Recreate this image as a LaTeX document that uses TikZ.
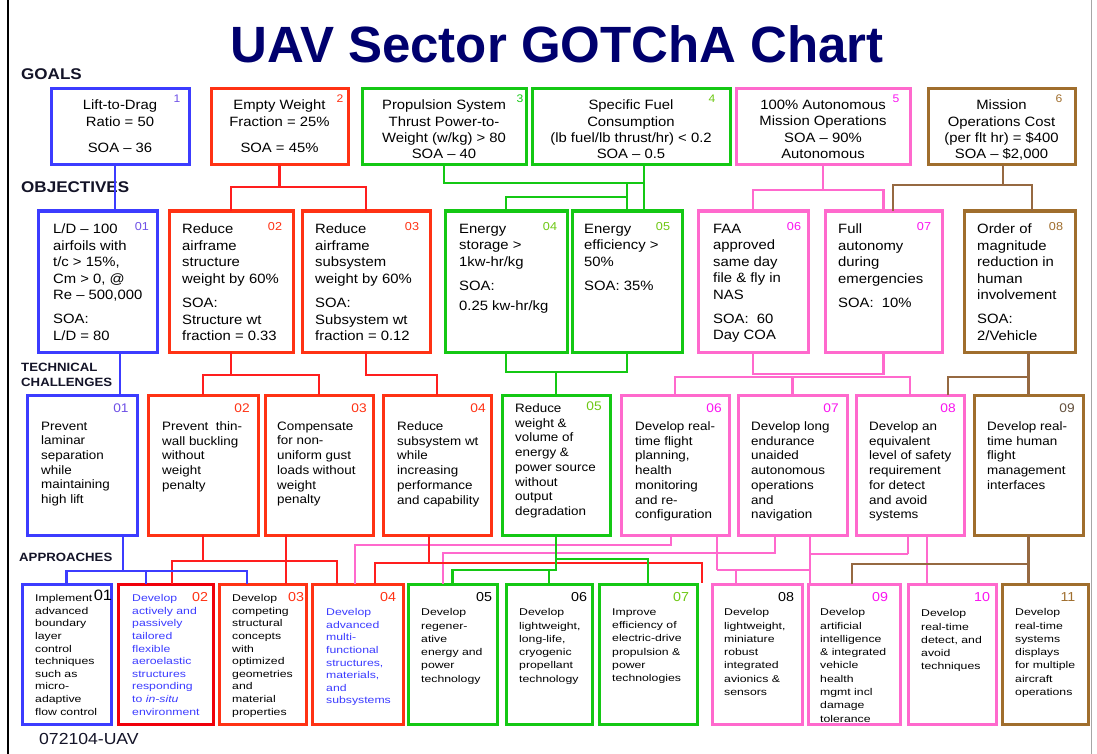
\documentclass[tikz,border=0pt]{standalone}
\usepackage{fontspec}
\setmainfont{Liberation Sans}
\newfontfamily\gfont{Liberation Sans}[FakeStretch=1.1]
\newfontfamily\afont{Liberation Sans}[FakeStretch=1.25]
\usetikzlibrary{fit}
\definecolor{cblue}{RGB}{60,60,255}
\definecolor{cred}{RGB}{255,50,20}
\definecolor{cpred}{RGB}{240,0,10}
\definecolor{cgrn}{RGB}{20,200,20}
\definecolor{cpnk}{RGB}{255,105,205}
\definecolor{cbrn}{RGB}{160,110,45}
\definecolor{lred}{RGB}{255,30,30}
\definecolor{lbrn}{RGB}{150,105,65}
\definecolor{navy}{RGB}{0,0,110}
\definecolor{npur}{RGB}{110,80,230}
\definecolor{nmag}{RGB}{250,20,240}
\definecolor{nlgr}{RGB}{110,200,20}
\definecolor{ngry}{RGB}{100,80,60}
\definecolor{secc}{RGB}{20,20,40}
\newcommand\mkbox[6]{\node[bx,draw=#2,fit={(#3,#4) (#5,#6)}] (#1) {};}
\begin{document}
\begin{tikzpicture}[x=1pt,y=-1pt,
 bx/.style={inner sep=0pt,outer sep=0pt,line width=3pt},
 ln/.style={line width=2.4pt},
 gtxt/.style={font=\gfont\fontsize{13.5}{16.3}\selectfont,align=center,anchor=north,inner sep=0pt},
 otxt/.style={font=\gfont\fontsize{13.5}{16.5}\selectfont,align=left,anchor=north west,inner sep=0pt},
 ttxt/.style={font=\gfont\fontsize{12.2}{14.7}\selectfont,align=left,anchor=north west,inner sep=0pt},
 atxt/.style={font=\afont\fontsize{9.8}{12.6}\selectfont,align=left,anchor=north west,inner sep=0pt},
 atxtb/.style={atxt,font=\afont\fontsize{9.8}{13.3}\selectfont},
 gnum/.style={font=\gfont\fontsize{11}{11}\selectfont,inner sep=0pt},
 onum/.style={font=\gfont\fontsize{11.5}{11.5}\selectfont,inner sep=0pt},
 tnum/.style={font=\gfont\fontsize{12.5}{12.5}\selectfont,inner sep=0pt},
 anum/.style={font=\gfont\fontsize{13}{13}\selectfont,inner sep=0pt},
 sec/.style={font=\gfont\bfseries\fontsize{15.5}{15.5}\selectfont,inner sep=0pt,anchor=base west,text=secc},
 sectwo/.style={sec,font=\gfont\bfseries\fontsize{12}{12}\selectfont},
]
\useasboundingbox (0,0) rectangle (1097,754);
\fill[white] (0,0) rectangle (1097,754);
\draw[line width=1.5pt] (8,0) -- (8,754);
\draw[line width=1pt,gray!70] (1091,0) -- (1091,754);

% title and section labels
\node[font=\bfseries\fontsize{51}{51}\selectfont,text=navy,anchor=base,inner sep=0pt] (title) at (557,63) {UAV Sector GOTChA Chart};
\node[sec] (lgoals) at (21,80) {GOALS};
\node[sec] (lobj) at (21,193) {OBJECTIVES};
\node[sectwo] (ltech) at (21,371) {TECHNICAL};
\node[sectwo] (lchal) at (21,386) {CHALLENGES};
\node[sectwo] (lappr) at (19,561) {APPROACHES};
\node[font=\gfont\fontsize{16}{16}\selectfont,anchor=base west,inner sep=0pt,text=secc] (docid) at (39,744) {072104-UAV};

% goals
\mkbox{g1}{cblue}{51}{89}{189}{165}
\mkbox{g2}{cred}{211}{89}{348}{165}
\mkbox{g3}{cgrn}{362}{89}{526}{165}
\mkbox{g4}{cgrn}{532}{89}{730}{165}
\mkbox{g5}{cpnk}{736}{89}{910}{165}
\mkbox{g6}{cbrn}{928}{89}{1075}{165}
\node[gtxt] (g1t) at ([yshift=-11pt]g1.north) {Lift-to-Drag\\Ratio = 50\\[10pt]SOA – 36};
\node[gtxt] (g2t) at ([yshift=-11pt]g2.north) {Empty Weight\\Fraction = 25\%\\[10pt]SOA = 45\%};
\node[gtxt] (g3t) at ([yshift=-11pt]g3.north) {Propulsion System\\Thrust Power-to-\\Weight (w/kg) > 80\\SOA – 40};
\node[gtxt] (g4t) at ([yshift=-11pt]g4.north) {Specific Fuel\\Consumption\\(lb fuel/lb thrust/hr) < 0.2\\SOA – 0.5};
\node[gtxt] (g5t) at ([yshift=-11pt]g5.north) {100\% Autonomous\\Mission Operations\\SOA – 90\%\\Autonomous};
\node[gtxt] (g6t) at ([yshift=-11pt]g6.north) {Mission\\Operations Cost\\(per flt hr) = \$400\\SOA – \$2,000};
\node[gnum,text=npur] (g1n) at (177,99) {1};
\node[gnum,text=cred] (g2n) at (340,99) {2};
\node[gnum,text=cgrn] (g3n) at (520,99) {3};
\node[gnum,text=nlgr] (g4n) at (712,99) {4};
\node[gnum,text=nmag] (g5n) at (896,99) {5};
\node[gnum,text=cbrn] (g6n) at (1059,99) {6};

% objectives
\mkbox{o1}{cblue}{38}{211}{157}{352}
\mkbox{o2}{cred}{169}{211}{293}{352}
\mkbox{o3}{cred}{302}{211}{430}{352}
\mkbox{o4}{cgrn}{445}{211}{567}{352}
\mkbox{o5}{cgrn}{572}{211}{682}{352}
\mkbox{o6}{cpnk}{698}{211}{808}{352}
\mkbox{o7}{cpnk}{825}{211}{942}{352}
\mkbox{o8}{cbrn}{964}{211}{1075}{352}
\node[otxt] (o1t) at (53,224) {L/D – 100\\airfoils with\\t/c > 15\%,\\Cm > 0, @\\Re – 500,000\\[7.5pt]SOA:\\L/D = 80};
\node[otxt] (o2t) at (182,224) {Reduce\\airframe\\structure\\weight by 60\%\\[8pt]SOA:\\Structure wt\\fraction = 0.33};
\node[otxt] (o3t) at (315,224) {Reduce\\airframe\\subsystem\\weight by 60\%\\[8pt]SOA:\\Subsystem wt\\fraction = 0.12};
\node[otxt] (o4t) at (459,224) {Energy\\storage >\\1kw-hr/kg\\[8pt]SOA:\\[3pt]0.25 kw-hr/kg};
\node[otxt] (o5t) at (584,224) {Energy\\efficiency >\\50\%\\[8pt]SOA: 35\%};
\node[otxt] (o6t) at (713,224) {FAA\\approved\\same day\\file \& fly in\\NAS\\[7.5pt]SOA:~~60\\Day COA};
\node[otxt] (o7t) at (838,224) {Full\\autonomy\\during\\emergencies\\[8pt]SOA:~~10\%};
\node[otxt] (o8t) at (977,224) {Order of\\magnitude\\reduction in\\human\\involvement\\[7.5pt]SOA:\\2/Vehicle};
\node[onum,text=npur] (o1n) at (142,227) {01};
\node[onum,text=cred] (o2n) at (275,227) {02};
\node[onum,text=cred] (o3n) at (412,227) {03};
\node[onum,text=nlgr] (o4n) at (550,227) {04};
\node[onum,text=nlgr] (o5n) at (663,227) {05};
\node[onum,text=nmag] (o6n) at (794,227) {06};
\node[onum,text=nmag] (o7n) at (924,227) {07};
\node[onum,text=cbrn] (o8n) at (1056,227) {08};

% technical challenges
\mkbox{t1}{cblue}{27}{395}{137}{535}
\mkbox{t2}{cred}{148}{395}{258}{535}
\mkbox{t3}{cred}{265}{395}{373}{535}
\mkbox{t4}{cred}{383}{395}{491}{535}
\mkbox{t5}{cgrn}{502}{395}{610}{535}
\mkbox{t6}{cpnk}{621}{395}{729}{535}
\mkbox{t7}{cpnk}{738}{395}{847}{535}
\mkbox{t8}{cpnk}{856}{395}{964}{535}
\mkbox{t9}{cbrn}{974}{395}{1083}{535}
\node[ttxt] (t1t) at (41,421.5) {Prevent\\laminar\\separation\\while\\maintaining\\high lift};
\node[ttxt] (t2t) at (162,421.5) {Prevent~~thin-\\wall buckling\\without\\weight\\penalty};
\node[ttxt] (t3t) at (277,421.5) {Compensate\\for non-\\uniform gust\\loads without\\weight\\penalty};
\node[ttxt] (t4t) at (397,421.5) {Reduce\\subsystem wt\\while\\increasing\\performance\\and capability};
\node[ttxt] (t5t) at (515,403.5) {Reduce\\weight \&\\volume of\\energy \&\\power source\\without\\output\\degradation};
\node[ttxt] (t6t) at (635,421.5) {Develop real-\\time flight\\planning,\\health\\monitoring\\and re-\\configuration};
\node[ttxt] (t7t) at (751,421.5) {Develop long\\endurance\\unaided\\autonomous\\operations\\and\\navigation};
\node[ttxt] (t8t) at (869,421.5) {Develop an\\equivalent\\level of safety\\requirement\\for detect\\and avoid\\systems};
\node[ttxt] (t9t) at (987,421.5) {Develop real-\\time human\\flight\\management\\interfaces};
\node[tnum,text=npur] (t1n) at (121,408) {01};
\node[tnum,text=cred] (t2n) at (242,408) {02};
\node[tnum,text=cred] (t3n) at (359,408) {03};
\node[tnum,text=cred] (t4n) at (478,408) {04};
\node[tnum,text=nlgr] (t5n) at (594,406) {05};
\node[tnum,text=nmag] (t6n) at (714,408) {06};
\node[tnum,text=nmag] (t7n) at (831,408) {07};
\node[tnum,text=nmag] (t8n) at (948,408) {08};
\node[tnum,text=ngry] (t9n) at (1067,408) {09};

% approaches
\mkbox{a1}{cblue}{22}{584}{111}{724}
\mkbox{a2}{cpred}{118}{584}{213}{724}
\mkbox{a3}{cred}{219}{584}{306}{724}
\mkbox{a4}{cred}{312}{584}{403}{724}
\mkbox{a5}{cgrn}{408}{584}{497}{724}
\mkbox{a6}{cgrn}{506}{584}{592}{724}
\mkbox{a7}{cgrn}{599}{584}{697}{724}
\mkbox{a8}{cpnk}{712}{584}{802}{724}
\mkbox{a9}{cpnk}{808}{584}{900}{724}
\mkbox{a10}{cpnk}{908}{584}{996}{724}
\mkbox{a11}{cbrn}{1002}{584}{1088}{724}
\node[atxt] (a1t) at (35,594.4) {Implement\\advanced\\boundary\\layer\\control\\techniques\\such as\\micro-\\adaptive\\flow control};
\node[atxt,text=cblue] (a2t) at (132,594.4) {Develop\\actively and\\passively\\tailored\\flexible\\aeroelastic\\structures\\responding\\to \textit{in-situ}\\environment};
\node[atxt] (a3t) at (232,594.4) {Develop\\competing\\structural\\concepts\\with\\optimized\\geometries\\and\\material\\properties};
\node[atxt,text=cblue] (a4t) at (326,608.4) {Develop\\advanced\\multi-\\functional\\structures,\\materials,\\and\\subsystems};
\node[atxtb] (a5t) at (421,608.4) {Develop\\regener-\\ative\\energy and\\power\\technology};
\node[atxtb] (a6t) at (519,608.4) {Develop\\lightweight,\\long-life,\\cryogenic\\propellant\\technology};
\node[atxtb] (a7t) at (612,608.4) {Improve\\efficiency of\\electric-drive\\propulsion \&\\power\\technologies};
\node[atxtb] (a8t) at (724,608.4) {Develop\\lightweight,\\miniature\\robust\\integrated\\avionics \&\\sensors};
\node[atxtb] (a9t) at (820,608.4) {Develop\\artificial\\intelligence\\\& integrated\\vehicle\\health\\mgmt incl\\damage\\tolerance};
\node[atxtb] (a10t) at (921,609.4) {Develop\\real-time\\detect, and\\avoid\\techniques};
\node[atxtb] (a11t) at (1015,608.4) {Develop\\real-time\\systems\\displays\\for multiple\\aircraft\\operations};
\node[anum,font=\gfont\fontsize{15}{15}\selectfont] (a1n) at (103,595) {01};
\node[anum,text=cred] (a2n) at (200,597) {02};
\node[anum,text=cred] (a3n) at (296,597) {03};
\node[anum,text=cred] (a4n) at (388,597) {04};
\node[anum] (a5n) at (484,597) {05};
\node[anum] (a6n) at (579,597) {06};
\node[anum,text=nlgr] (a7n) at (681,597) {07};
\node[anum] (a8n) at (786,597) {08};
\node[anum,text=nmag] (a9n) at (880,597) {09};
\node[anum,text=nmag] (a10n) at (982,597) {10};
\node[anum,text=cbrn] (a11n) at (1068,597) {11};

% ---- connectors: goals -> objectives
\coordinate (g1b) at ([xshift=-5pt]g1.south);
\draw[ln,cblue] (g1b) -- (g1b |- o1.north);
\draw[ln,lred] (g2.south) -- ++(0,22) coordinate (rj1);
\draw[ln,lred] (o2.north) |- (rj1) -| (o3.north);
\coordinate (g4b) at ([xshift=13pt]g4.south);
\draw[ln,cgrn] (g3.south) -- ++(0,18) coordinate (gj1) -| (g4b |- o5.north);
\draw[ln,cgrn] (g4b) -- (g4b |- gj1);
\draw[ln,cgrn] (o5.north) -- (o5.north |- gj1);
\draw[ln,cgrn] (o4.north) -- ++(0,-14) -| (o5.north);
\draw[ln,cpnk] (g5.south) -- ++(0,25) coordinate (pj1);
\draw[ln,cpnk] (o6.north) |- (pj1) -| (o7.north);
\draw[ln,lbrn] ([xshift=1.5pt]g6.south) -- ++(0,20) coordinate (bj1);
\coordinate (o7b) at ([xshift=9.5pt]o7.north);
\coordinate (o8b) at ([xshift=12.5pt]o8.north);
\draw[ln,lbrn] (o7b) |- (bj1) -| (o8b);

% ---- objectives -> technical challenges
\coordinate (o1b) at ([xshift=22.5pt]o1.south);
\draw[ln,cblue] (o1b) -- (o1b |- t1.north);
\draw[ln,lred] (o2.south) -- ++(0,23) coordinate (rj2);
\draw[ln,lred] (t2.north) |- (rj2) -| (t3.north);
\draw[ln,lred] (o3.south) -- ++(0,23) -| (t4.north);
\draw[ln,cgrn] (o4.south) -- ++(0,20) coordinate (gj2) -| (o5.south);
\draw[ln,cgrn] (t5.north) -- (t5.north |- gj2);
\draw[ln,cpnk] (o6.south) -- ++(0,22) -| (o7.south);
\draw[ln,cpnk] (t6.north) -- ++(0,-18) coordinate (pj2) -| (t8.north);
\draw[ln,cpnk] (t7.north) -- (t7.north |- pj2);
\coordinate (t8b) at ([xshift=38pt]t8.north);
\draw[ln,lbrn] (t9.north) -- (t9.north |- o8.south);
\draw[ln,lbrn] (t8b) -- ++(0,-18) -| (t9.north);

% ---- technical challenges -> approaches
\coordinate (t6b) at ([xshift=-4pt]t6.south);
\coordinate (a4d) at ([xshift=-2.5pt]a4.north);
\draw[ln,cpnk] (t6b) -- ++(0,10) -| (a4d);
\coordinate (t7b) at ([xshift=-17.5pt]t7.south);
\coordinate (a5b) at ([xshift=-9.5pt]a5.north);
\draw[ln,cpnk] (t7b) -- ++(0,18) -| (a5b);
\coordinate (t6c) at ([xshift=42pt]t6.south);
\coordinate (t7c) at ([xshift=17.5pt]t7.south);
\coordinate (a8b) at ([xshift=-21pt]a8.north);
\draw[ln,cpnk] (t6c) -- ++(0,35) coordinate (pj3);
\draw[ln,cpnk] (pj3) -- (pj3 -| t7c);
\draw[ln,cpnk] (a8b) -- (a8b |- pj3);
\draw[ln,cpnk] (t7c) -- (t7c |- a9.north);
\coordinate (t8c) at ([xshift=-2pt]t8.south);
\draw[ln,cpnk] (t8c) -- ++(0,19) coordinate (pj4);
\draw[ln,cpnk] (pj4) -- (pj4 -| t7c);
\coordinate (t8d) at ([xshift=17pt]t8.south);
\draw[ln,cpnk] (t8d) -- (t8d |- a10.north);

\coordinate (a2c) at ([xshift=6.5pt]a2.north);
\coordinate (a4b) at ([xshift=-20.5pt]a4.north);
\draw[ln,lred] (t2.south) -- ++(0,26) coordinate (rj3);
\draw[ln,lred] (a2c) |- (rj3) -| (a4b);
\coordinate (t3b) at ([xshift=-33pt]t3.south);
\draw[ln,lred] (t3b) -- (t3b |- a3.north);
\coordinate (t4b) at ([xshift=-8pt]t4.south);
\coordinate (a4c) at ([xshift=17.5pt]a4.north);
\coordinate (rfree) at ([xshift=5pt,yshift=1pt]a7.north east);
\draw[ln,lred] (t4b) -- ++(0,28) coordinate (rj4);
\draw[ln,lred] (a4c) |- (rj4) -| (rfree);

\draw[ln,cgrn] (t5.south) -- ++(0,35) coordinate (gj3) -| (a5.north);
\draw[ln,cgrn] (a6.north) -- (a6.north |- gj3);
\draw[ln,cgrn] (t5.south) -- ++(0,24) -| (a7.north);

\coordinate (t1b) at ([xshift=41pt]t1.south);
\coordinate (a2b) at ([xshift=-19.5pt]a2.north);
\coordinate (a3b) at ([xshift=-15.5pt]a3.north);
\draw[ln,cblue] (t1b) -- ++(0,36) coordinate (bj2);
\draw[ln,cblue] (a1.north) |- (bj2) -| (a3b);
\draw[ln,cblue] (a2b) -- (a2b |- bj2);

\draw[ln,lbrn] (t9.south) -- (t9.south |- a11.north);
\coordinate (a9b) at ([xshift=-2pt]a9.north);
\draw[ln,lbrn] (a9b) -- ++(0,-20) -| (t9.south);
\end{tikzpicture}
\end{document}
